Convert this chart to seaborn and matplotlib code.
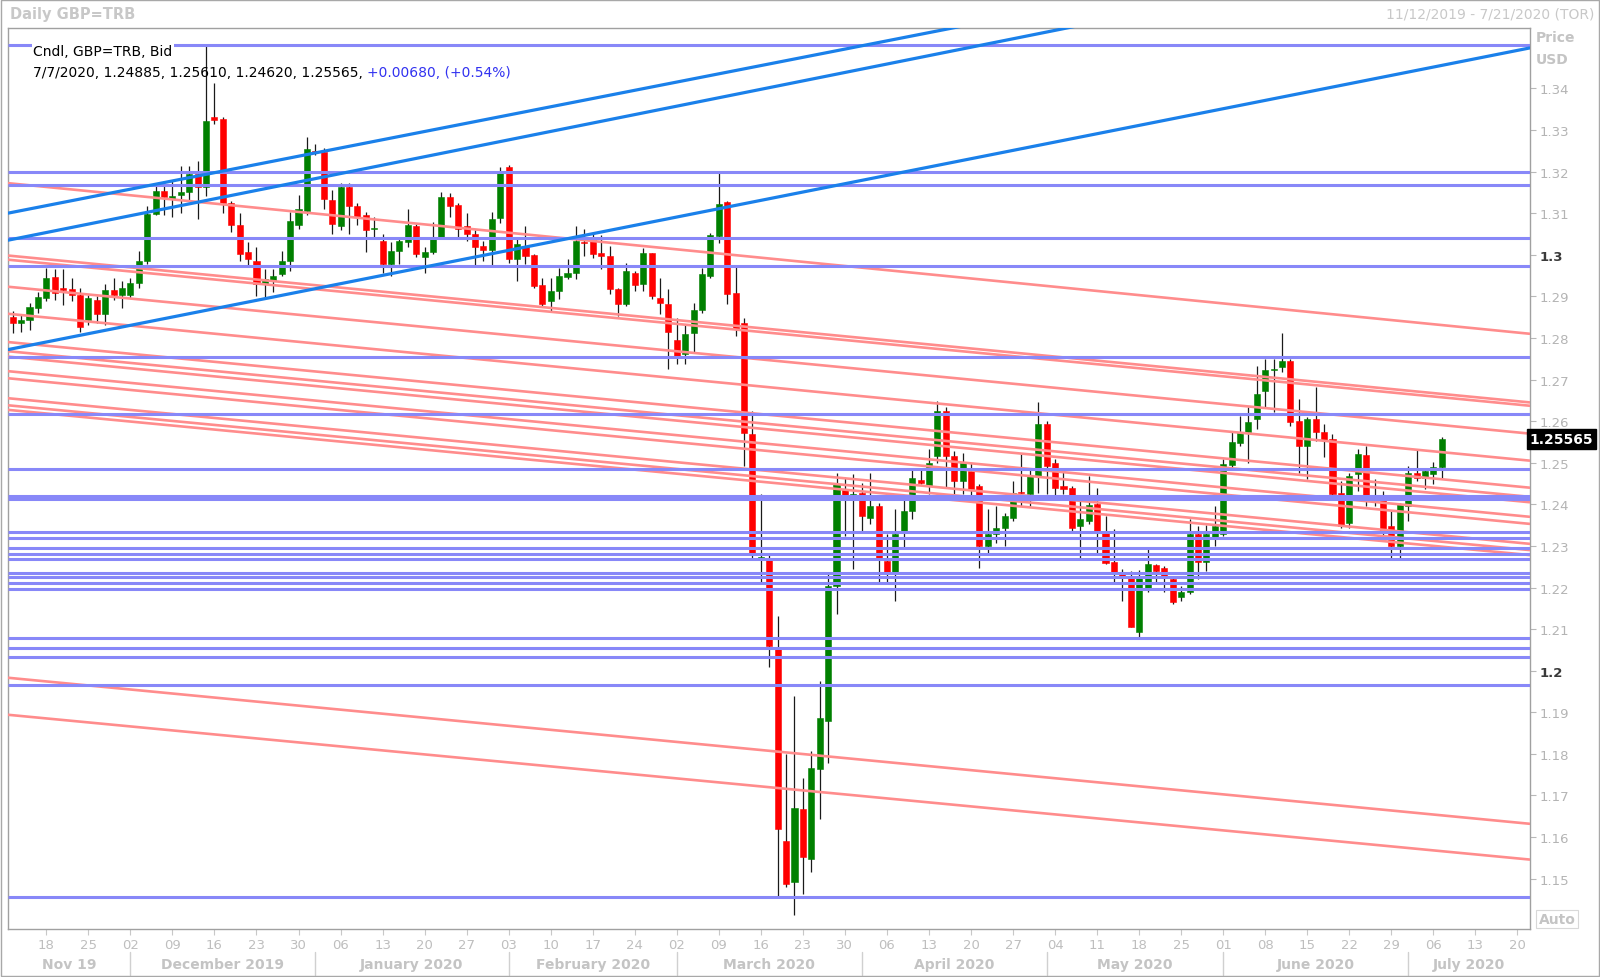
import numpy as np
import pandas as pd
import seaborn as sns
import matplotlib
matplotlib.use("Agg")
import matplotlib.pyplot as plt
import matplotlib.transforms as mtransforms
from matplotlib.patches import Rectangle

# daily GBP=TRB candles, 11/12/2019 .. 7/7/2020 (one per weekday)
opens = [1.2850, 1.2835, 1.2843, 1.2872, 1.2896, 1.2947, 1.2921, 1.2917, 1.2903, 1.2843,
         1.2892, 1.2858, 1.2914, 1.2904, 1.2904, 1.2933, 1.2986, 1.3099, 1.3152, 1.3135,
         1.3143, 1.3150, 1.3194, 1.3162, 1.3330, 1.3326, 1.3124, 1.3071, 1.3006, 1.2986,
         1.2929, 1.2937, 1.2953, 1.2986, 1.3071, 1.3105, 1.3250, 1.3246, 1.3132, 1.3068,
         1.3164, 1.3116, 1.3095, 1.3062, 1.3034, 1.2978, 1.3010, 1.3030, 1.3069, 1.2995,
         1.3006, 1.3042, 1.3138, 1.3120, 1.3069, 1.3051, 1.3022, 1.3012, 1.3089, 1.3212,
         1.2989, 1.3021, 1.2999, 1.2927, 1.2889, 1.2913, 1.2947, 1.2956, 1.3031, 1.3037,
         1.3003, 1.2996, 1.2917, 1.2881, 1.2957, 1.2929, 1.3003, 1.2897, 1.2881, 1.2794,
         1.2761, 1.2811, 1.2867, 1.2949, 1.3044, 1.3127, 1.2907, 1.2837, 1.2568, 1.2270,
         1.2272, 1.2052, 1.1591, 1.1491, 1.1667, 1.1547, 1.1763, 1.1879, 1.2204, 1.2436,
         1.2419, 1.2428, 1.2368, 1.2396, 1.2264, 1.2232, 1.2336, 1.2384, 1.2459, 1.2444,
         1.2516, 1.2625, 1.2515, 1.2456, 1.2480, 1.2444, 1.2300, 1.2328, 1.2344, 1.2368,
         1.2430, 1.2424, 1.2467, 1.2592, 1.2500, 1.2443, 1.2438, 1.2347, 1.2360, 1.2400,
         1.2336, 1.2262, 1.2232, 1.2228, 1.2094, 1.2200, 1.2254, 1.2248, 1.2220, 1.2178,
         1.2190, 1.2328, 1.2262, 1.2316, 1.2328, 1.2494, 1.2548, 1.2573, 1.2605, 1.2673,
         1.2723, 1.2729, 1.2745, 1.2601, 1.2540, 1.2605, 1.2573, 1.2557, 1.2427, 1.2356,
         1.2472, 1.2519, 1.2422, 1.2419, 1.2348, 1.2300, 1.2396, 1.2475, 1.2464, 1.2474,
         1.24885]
highs = [1.2865, 1.2856, 1.2884, 1.2911, 1.2968, 1.2965, 1.2965, 1.2945, 1.2921, 1.2904,
         1.2900, 1.2929, 1.2945, 1.2937, 1.2945, 1.3010, 1.3116, 1.3172, 1.3172, 1.3180,
         1.3214, 1.3214, 1.3226, 1.3502, 1.3414, 1.3332, 1.3128, 1.3100, 1.3030, 1.3018,
         1.2965, 1.2965, 1.3010, 1.3103, 1.3144, 1.3282, 1.3265, 1.3256, 1.3156, 1.3172,
         1.3172, 1.3124, 1.3103, 1.3091, 1.3051, 1.3030, 1.3042, 1.3111, 1.3075, 1.3018,
         1.3079, 1.3150, 1.3148, 1.3124, 1.3100, 1.3059, 1.3034, 1.3103, 1.3210, 1.3215,
         1.3037, 1.3068, 1.3001, 1.2945, 1.2945, 1.2969, 1.2989, 1.3068, 1.3061, 1.3049,
         1.3047, 1.3021, 1.2921, 1.2981, 1.2961, 1.3017, 1.3005, 1.2945, 1.2917, 1.2849,
         1.2833, 1.2885, 1.2969, 1.3053, 1.3196, 1.3129, 1.2973, 1.2849, 1.2625, 1.2424,
         1.2280, 1.2132, 1.1799, 1.1939, 1.1743, 1.1807, 1.1976, 1.2232, 1.2476, 1.2464,
         1.2472, 1.2452, 1.2476, 1.2404, 1.2328, 1.2388, 1.2420, 1.2484, 1.2488, 1.2532,
         1.2649, 1.2633, 1.2528, 1.2524, 1.2500, 1.2448, 1.2388, 1.2396, 1.2380, 1.2456,
         1.2520, 1.2488, 1.2645, 1.2601, 1.2508, 1.2480, 1.2444, 1.2420, 1.2468, 1.2440,
         1.2372, 1.2340, 1.2244, 1.2240, 1.2241, 1.2292, 1.2256, 1.2252, 1.2224, 1.2204,
         1.2364, 1.2348, 1.2350, 1.2396, 1.2508, 1.2577, 1.2613, 1.2633, 1.2733, 1.2749,
         1.2749, 1.2813, 1.2749, 1.2653, 1.2609, 1.2681, 1.2593, 1.2569, 1.2456, 1.2476,
         1.2532, 1.2540, 1.2460, 1.2432, 1.2384, 1.2404, 1.2492, 1.2532, 1.2488, 1.2502,
         1.25610]
lows = [1.2811, 1.2815, 1.2819, 1.2860, 1.2888, 1.2892, 1.2880, 1.2888, 1.2815, 1.2831,
        1.2835, 1.2831, 1.2892, 1.2872, 1.2896, 1.2921, 1.2978, 1.3095, 1.3095, 1.3090,
        1.3101, 1.3130, 1.3085, 1.3140, 1.3314, 1.3100, 1.3055, 1.2986, 1.2973, 1.2900,
        1.2896, 1.2910, 1.2949, 1.2961, 1.3063, 1.3095, 1.3240, 1.3110, 1.3051, 1.3059,
        1.3051, 1.3071, 1.3006, 1.3042, 1.2957, 1.2949, 1.2978, 1.3018, 1.2994, 1.2957,
        1.3002, 1.3038, 1.3091, 1.3038, 1.3034, 1.2973, 1.2986, 1.2973, 1.3077, 1.2981,
        1.2937, 1.2977, 1.2921, 1.2877, 1.2865, 1.2893, 1.2941, 1.2941, 1.2997, 1.2993,
        1.2965, 1.2905, 1.2853, 1.2877, 1.2913, 1.2913, 1.2893, 1.2857, 1.2725, 1.2737,
        1.2737, 1.2765, 1.2861, 1.2945, 1.3029, 1.2881, 1.2805, 1.2492, 1.2272, 1.2212,
        1.2008, 1.1459, 1.1479, 1.1412, 1.1463, 1.1515, 1.1643, 1.1779, 1.2136, 1.2324,
        1.2244, 1.2336, 1.2352, 1.2212, 1.2212, 1.2168, 1.2292, 1.2364, 1.2448, 1.2424,
        1.2500, 1.2440, 1.2420, 1.2424, 1.2420, 1.2248, 1.2284, 1.2308, 1.2300, 1.2360,
        1.2396, 1.2396, 1.2428, 1.2424, 1.2420, 1.2424, 1.2336, 1.2272, 1.2352, 1.2284,
        1.2256, 1.2212, 1.2168, 1.2104, 1.2081, 1.2188, 1.2212, 1.2188, 1.2160, 1.2168,
        1.2184, 1.2220, 1.2240, 1.2300, 1.2324, 1.2484, 1.2540, 1.2500, 1.2581, 1.2633,
        1.2621, 1.2717, 1.2589, 1.2476, 1.2460, 1.2553, 1.2513, 1.2416, 1.2344, 1.2344,
        1.2432, 1.2396, 1.2396, 1.2324, 1.2272, 1.2272, 1.2360, 1.2456, 1.2436, 1.2450,
        1.24620]
closes = [1.2835, 1.2843, 1.2874, 1.2898, 1.2945, 1.2909, 1.2914, 1.2903, 1.2826, 1.2895,
          1.2858, 1.2914, 1.2903, 1.2921, 1.2933, 1.2986, 1.3099, 1.3152, 1.3138, 1.3142,
          1.3151, 1.3194, 1.3162, 1.3322, 1.3324, 1.3124, 1.3071, 1.3002, 1.2990, 1.2929,
          1.2941, 1.2949, 1.2986, 1.3081, 1.3109, 1.3254, 1.3246, 1.3135, 1.3075, 1.3164,
          1.3116, 1.3091, 1.3059, 1.3065, 1.2978, 1.3010, 1.3034, 1.3071, 1.3002, 1.3006,
          1.3042, 1.3138, 1.3117, 1.3063, 1.3051, 1.3018, 1.3012, 1.3087, 1.3199, 1.2989,
          1.3025, 1.2997, 1.2925, 1.2881, 1.2913, 1.2948, 1.2957, 1.3033, 1.3029, 1.3001,
          1.2996, 1.2917, 1.2881, 1.2961, 1.2927, 1.3003, 1.2901, 1.2885, 1.2815, 1.2757,
          1.2809, 1.2867, 1.2953, 1.3047, 1.3121, 1.2905, 1.2821, 1.2572, 1.2284, 1.2274,
          1.2060, 1.1619, 1.1487, 1.1671, 1.1551, 1.1767, 1.1887, 1.2204, 1.2448, 1.2416,
          1.2424, 1.2372, 1.2396, 1.2272, 1.2232, 1.2328, 1.2384, 1.2464, 1.2452, 1.2500,
          1.2625, 1.2515, 1.2456, 1.2499, 1.2436, 1.2300, 1.2328, 1.2344, 1.2371, 1.2428,
          1.2426, 1.2467, 1.2592, 1.2491, 1.2440, 1.2436, 1.2342, 1.2364, 1.2398, 1.2336,
          1.2260, 1.2238, 1.2226, 1.2106, 1.2228, 1.2256, 1.2240, 1.2228, 1.2165, 1.2190,
          1.2328, 1.2262, 1.2328, 1.2348, 1.2496, 1.2550, 1.2573, 1.2597, 1.2666, 1.2723,
          1.2726, 1.2745, 1.2598, 1.2540, 1.2605, 1.2573, 1.2555, 1.2424, 1.2348, 1.2468,
          1.2520, 1.2420, 1.2420, 1.2336, 1.2300, 1.2400, 1.2475, 1.2464, 1.2480, 1.24885,
          1.25565]

# axis labels
day_ticks = list(range(4, 180, 5))
day_labels = ["18", "25", "02", "09", "16", "23", "30", "06", "13", "20", "27", "03",
              "10", "17", "24", "02", "09", "16", "23", "30", "06", "13", "20", "27",
              "04", "11", "18", "25", "01", "08", "15", "22", "29", "06", "13", "20"]
month_names = ["Nov 19", "December 2019", "January 2020", "February 2020", "March 2020",
               "April 2020", "May 2020", "June 2020", "July 2020"]
month_starts = [14, 36, 59, 79, 101, 123, 144, 166]
price_ticks = [1.15, 1.16, 1.17, 1.18, 1.19, 1.20, 1.21, 1.22, 1.23, 1.24,
               1.25, 1.26, 1.27, 1.28, 1.29, 1.30, 1.31, 1.32, 1.33, 1.34]

# drawn levels
blue_levels = [1.3505, 1.3200, 1.3167, 1.3040, 1.2973, 1.2753, 1.2616, 1.2484, 1.2419,
               1.2412, 1.2333, 1.2319, 1.2296, 1.2281, 1.2268, 1.2236, 1.2225, 1.2210,
               1.2197, 1.2078, 1.2054, 1.2033, 1.1965, 1.1456]
salmon_start = [1.3172, 1.2998, 1.2988, 1.2923, 1.2858, 1.2790, 1.2768, 1.2755, 1.2720,
                1.2703, 1.2655, 1.2638, 1.2627, 1.1983, 1.1894]
salmon_end = [1.2810, 1.2645, 1.2637, 1.2570, 1.2505, 1.2440, 1.2418, 1.2405, 1.2370,
              1.2353, 1.2305, 1.2290, 1.2278, 1.1632, 1.1546]
trend_start = [1.2772, 1.3100, 1.3035]
trend_end = [1.3497, 1.3817, 1.3768]

XMIN, XMAX = -0.535, 180.45
YMIN, YMAX = 1.1380, 1.3546

sns.set_theme(style="white")
plt.rcParams["font.family"] = ["DejaVu Sans"]

fig = plt.figure(figsize=(16, 9.78), dpi=100)
fig.patch.set_facecolor("white")
ax = fig.add_axes([8.2 / 1600, (978 - 929.6) / 978, (1529.6 - 8.2) / 1600, (929.6 - 28.6) / 978])
ax.set_facecolor("white")

df = pd.DataFrame({"o": opens, "h": highs, "l": lows, "c": closes})
df["x"] = np.arange(len(df))
up = df["c"] >= df["o"]
cols = np.where(up, "#008000", "#FF0000")

ax.vlines(df["x"], df["l"], df["h"], color="#1a1a1a", lw=0.9, zorder=2)
body_bottom = df[["o", "c"]].min(axis=1)
body_h = (df["c"] - df["o"]).abs().clip(lower=0.00012)
ax.bar(df["x"], body_h, bottom=body_bottom, width=0.72, color=cols, edgecolor=cols,
       lw=0.4, zorder=3)

# salmon trend lines
sal = pd.DataFrame({"line": np.repeat(np.arange(len(salmon_start)), 2),
                    "x": [XMIN, XMAX] * len(salmon_start),
                    "price": np.ravel(np.column_stack([salmon_start, salmon_end]))})
sns.lineplot(data=sal, x="x", y="price", units="line", estimator=None, color="#FF8C8C",
             lw=1.9, ax=ax, legend=False, zorder=4)

ax.hlines(blue_levels, XMIN, XMAX, color="#8888F8", lw=2.2, zorder=5)

tr = pd.DataFrame({"line": np.repeat(np.arange(len(trend_start)), 2),
                   "x": [XMIN, XMAX] * len(trend_start),
                   "price": np.ravel(np.column_stack([trend_start, trend_end]))})
sns.lineplot(data=tr, x="x", y="price", units="line", estimator=None, color="#1A80EA",
             lw=2.3, ax=ax, legend=False, zorder=6)

ax.set_xlim(XMIN, XMAX)
ax.set_ylim(YMIN, YMAX)
ax.set_xlabel("")
ax.set_ylabel("")
for s in ax.spines.values():
    s.set_color("#A0A0A0")
    s.set_linewidth(1)

ax.yaxis.tick_right()
ax.set_yticks(price_ticks)
ax.set_yticklabels([("%.1f" % v) if abs(v * 10 - round(v * 10)) < 1e-6 else ("%.2f" % v)
                    for v in price_ticks])
ax.tick_params(axis="y", right=True, left=False, length=4, width=0.8, color="#B8B8B8",
               labelcolor="#B4B4B4", labelsize=9.5, pad=3)
for lab, v in zip(ax.get_yticklabels(), price_ticks):
    if abs(v * 10 - round(v * 10)) < 1e-6:
        lab.set_fontweight("bold")
        lab.set_color("#3a3a3a")

ax.set_xticks(day_ticks)
ax.set_xticklabels(day_labels)
ax.tick_params(axis="x", bottom=True, length=4, width=0.8, color="#C8C8C8",
               labelcolor="#BEBEBE", labelsize=9.5, pad=3)

# month row
trans = mtransforms.blended_transform_factory(ax.transData, fig.transFigure)
edges = [XMIN] + month_starts + [XMAX]
for i, name in enumerate(month_names):
    mid = (edges[i] + edges[i + 1]) / 2
    ax.text(mid, 1 - 965 / 978, name, transform=trans, ha="center", va="center",
            fontsize=10, fontweight="bold", color="#C4C4C4")
for m in month_starts:
    ax.plot([m, m], [1 - 953 / 978, 1 - 976 / 978], transform=trans, color="#D0D0D0",
            lw=1, clip_on=False)

# last price tag
ty = mtransforms.blended_transform_factory(ax.transAxes, ax.transData)
ax.text(1.0, closes[-1], "%.5f" % closes[-1], transform=ty, ha="left", va="center",
        fontsize=10, fontweight="bold", color="white",
        bbox=dict(facecolor="black", edgecolor="black", pad=2.2), zorder=10, clip_on=False)

# header texts
fig.text(10 / 1600, 1 - 15 / 978, "Daily GBP=TRB", fontsize=10.5, fontweight="bold",
         color="#C8C8C8", va="center", ha="left")
fig.text(1594 / 1600, 1 - 15 / 978, "11/12/2019 - 7/21/2020 (TOR)", fontsize=10,
         color="#C8C8C8", va="center", ha="right")
fig.text(1536 / 1600, 1 - 38 / 978, "Price", fontsize=10, fontweight="bold",
         color="#C4C4C4", va="center", ha="left")
fig.text(1536 / 1600, 1 - 60 / 978, "USD", fontsize=10, fontweight="bold",
         color="#C4C4C4", va="center", ha="left")
fig.text(1557 / 1600, 1 - 920 / 978, "Auto", fontsize=10, fontweight="bold",
         color="#C4C4C4", va="center", ha="center",
         bbox=dict(facecolor="white", edgecolor="#D8D8D8", pad=1.5, lw=0.8))

fig.text(33 / 1600, 1 - 52 / 978, "Cndl, GBP=TRB, Bid", fontsize=10, color="black",
         va="center", ha="left", zorder=10,
         bbox=dict(facecolor="white", edgecolor="none", pad=1))
t2 = fig.text(33 / 1600, 1 - 73 / 978,
              "7/7/2020, 1.24885, 1.25610, 1.24620, 1.25565, ",
              fontsize=10, color="black", va="center", ha="left", zorder=10)
ax.annotate("+0.00680, (+0.54%)", xy=(1, 0), xycoords=t2, va="bottom", ha="left",
            fontsize=10, color="#3232F0", zorder=10)

fig.add_artist(Rectangle((0.0006, 0.001), 0.9988, 0.998, transform=fig.transFigure,
                         fill=False, edgecolor="#A8A8A8", lw=1))

fig.savefig("out.png", dpi=100)
